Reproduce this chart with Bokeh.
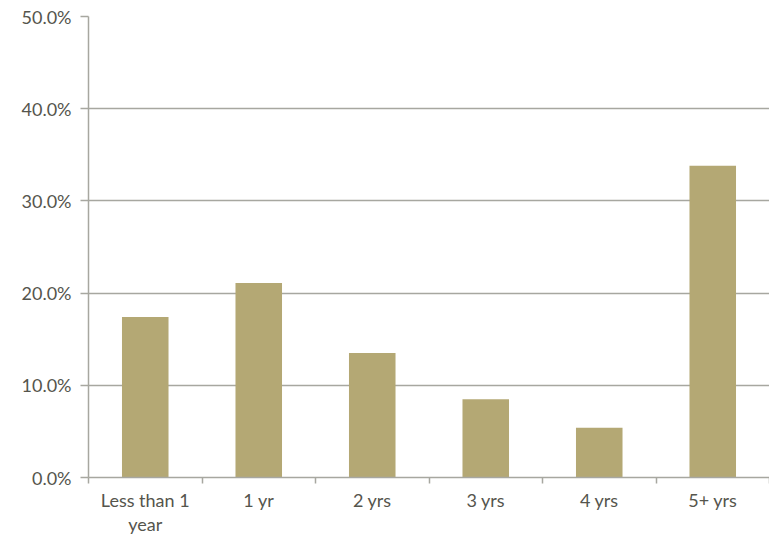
from bokeh.plotting import figure
from bokeh.models import Range1d, FixedTicker, NumeralTickFormatter, ColumnDataSource
from bokeh.embed import file_html
from bokeh.resources import INLINE

categories = ["Less than 1\nyear", "1 yr", "2 yrs", "3 yrs", "4 yrs", "5+ yrs"]
values = [0.174, 0.211, 0.135, 0.085, 0.054, 0.338]
y_ticks = [0.0, 0.1, 0.2, 0.3, 0.4, 0.5]

FONT = "Lato"
TEXT = "#55554D"
GRID = "#A7A7A0"
BAR = "#B4A874"

xs = [i + 0.5 for i in range(len(categories))]
src = ColumnDataSource(dict(x=xs, top=values))

p = figure(width=769, height=537, output_backend="svg", toolbar_location=None,
           x_range=Range1d(0, len(categories)), y_range=Range1d(0, 0.5),
           min_border_left=88, min_border_right=0, min_border_top=16, min_border_bottom=55)
p.outline_line_color = None
p.background_fill_color = "white"

p.vbar(x="x", top="top", width=0.41, bottom=0, source=src, fill_color=BAR, line_color=None)

# x axis
p.xaxis.ticker = FixedTicker(ticks=xs, minor_ticks=list(range(len(categories) + 1)))
p.xaxis.major_label_overrides = {x: c for x, c in zip(xs, categories)}
p.xaxis.major_tick_line_color = None
p.xaxis.major_tick_out = 6
p.xaxis.major_tick_in = 0
p.xaxis.minor_tick_out = 6
p.xaxis.minor_tick_in = 0
p.xaxis.minor_tick_line_color = GRID
p.xaxis.minor_tick_line_width = 1.5
p.xaxis.axis_line_color = GRID
p.xaxis.axis_line_width = 1.5
p.xaxis.major_label_text_font = FONT
p.xaxis.major_label_text_font_size = "18px"
p.xaxis.major_label_text_color = TEXT
p.xaxis.major_label_standoff = 5
p.xaxis.major_label_text_line_height = 1.1
p.xgrid.grid_line_color = None

# y axis
p.yaxis.ticker = FixedTicker(ticks=y_ticks)
p.yaxis.formatter = NumeralTickFormatter(format="0.0%")
p.yaxis.major_tick_out = 8
p.yaxis.major_tick_in = 0
p.yaxis.major_tick_line_color = GRID
p.yaxis.major_tick_line_width = 1.5
p.yaxis.minor_tick_line_color = None
p.yaxis.axis_line_color = GRID
p.yaxis.axis_line_width = 1.5
p.yaxis.major_label_text_font = FONT
p.yaxis.major_label_text_font_size = "18px"
p.yaxis.major_label_text_color = TEXT
p.yaxis.major_label_standoff = 9
p.ygrid.grid_line_color = GRID
p.ygrid.grid_line_width = 1.5

open("out.html", "w").write(file_html(p, INLINE))
